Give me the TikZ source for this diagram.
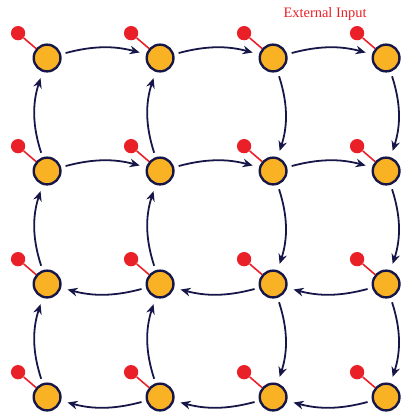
\documentclass[tikz,border=0pt]{standalone}
\usepackage{fontspec}
\setmainfont{Liberation Serif}
\usetikzlibrary{
    arrows.meta,
    positioning,
    calc
}
\definecolor{cellfill}{RGB}{249,178,36}
\definecolor{navy}{RGB}{22,22,72}
\definecolor{inred}{RGB}{234,32,40}

\begin{document}
\begin{tikzpicture}[
    cell/.style={circle, draw=navy, fill=cellfill, line width=1.8pt,
                 minimum size=0.71cm, inner sep=0pt},
    inp/.style={circle, fill=inred, minimum size=0.38cm, inner sep=0pt},
    stem/.style={inred, line width=1.2pt},
    arr/.style={-{Stealth[length=7.5pt, width=6.5pt]}, navy, line width=1.35pt,
                bend left=18, shorten <=3.5pt, shorten >=5pt},
    lbl/.style={font=\fontsize{10.9}{12}\selectfont, text=inred}
  ]
    \useasboundingbox (0,0) rectangle (10.645,-11.017);
    % Grid of cells
    \node[cell](n11) at (1.25,-1.54) {};
    \node[cell](n12) at (4.25,-1.54) {};
    \node[cell](n13) at (7.25,-1.54) {};
    \node[cell](n14) at (10.25,-1.54) {};
    \node[cell](n21) at (1.25,-4.54) {};
    \node[cell](n22) at (4.25,-4.54) {};
    \node[cell](n23) at (7.25,-4.54) {};
    \node[cell](n24) at (10.25,-4.54) {};
    \node[cell](n31) at (1.25,-7.54) {};
    \node[cell](n32) at (4.25,-7.54) {};
    \node[cell](n33) at (7.25,-7.54) {};
    \node[cell](n34) at (10.25,-7.54) {};
    \node[cell](n41) at (1.25,-10.54) {};
    \node[cell](n42) at (4.25,-10.54) {};
    \node[cell](n43) at (7.25,-10.54) {};
    \node[cell](n44) at (10.25,-10.54) {};

    % Inputs
    \foreach \r in {1,...,4}
      \foreach \c in {1,...,4}{
        \node[inp](i\r\c) at ($(n\r\c)+(-0.77,0.66)$) {};
        \draw[stem](i\r\c)--(n\r\c);
      }

    % Rightward (rows 1-2)
    \draw[arr, bend left=15](n11) to (n12); \draw[arr, bend left=15](n12) to (n13); \draw[arr, bend left=15](n13) to (n14);
    \draw[arr, bend left=15](n21) to (n22); \draw[arr, bend left=15](n22) to (n23); \draw[arr, bend left=15](n23) to (n24);
    % Leftward (rows 3-4)
    \draw[arr, bend left=15](n34) to (n33); \draw[arr, bend left=15](n33) to (n32); \draw[arr, bend left=15](n32) to (n31);
    \draw[arr, bend left=15](n44) to (n43); \draw[arr, bend left=15](n43) to (n42); \draw[arr, bend left=15](n42) to (n41);
    % Upward (columns 1-2)
    \draw[arr](n41) to (n31); \draw[arr](n31) to (n21); \draw[arr](n21) to (n11);
    \draw[arr](n42) to (n32); \draw[arr](n32) to (n22); \draw[arr](n22) to (n12);
    % Downward (columns 3-4)
    \draw[arr](n13) to (n23); \draw[arr](n23) to (n33); \draw[arr](n33) to (n43);
    \draw[arr](n14) to (n24); \draw[arr](n24) to (n34); \draw[arr](n34) to (n44);

    \node[lbl](ext) at (8.63,-0.37) {External Input};
  \end{tikzpicture}
\end{document}
